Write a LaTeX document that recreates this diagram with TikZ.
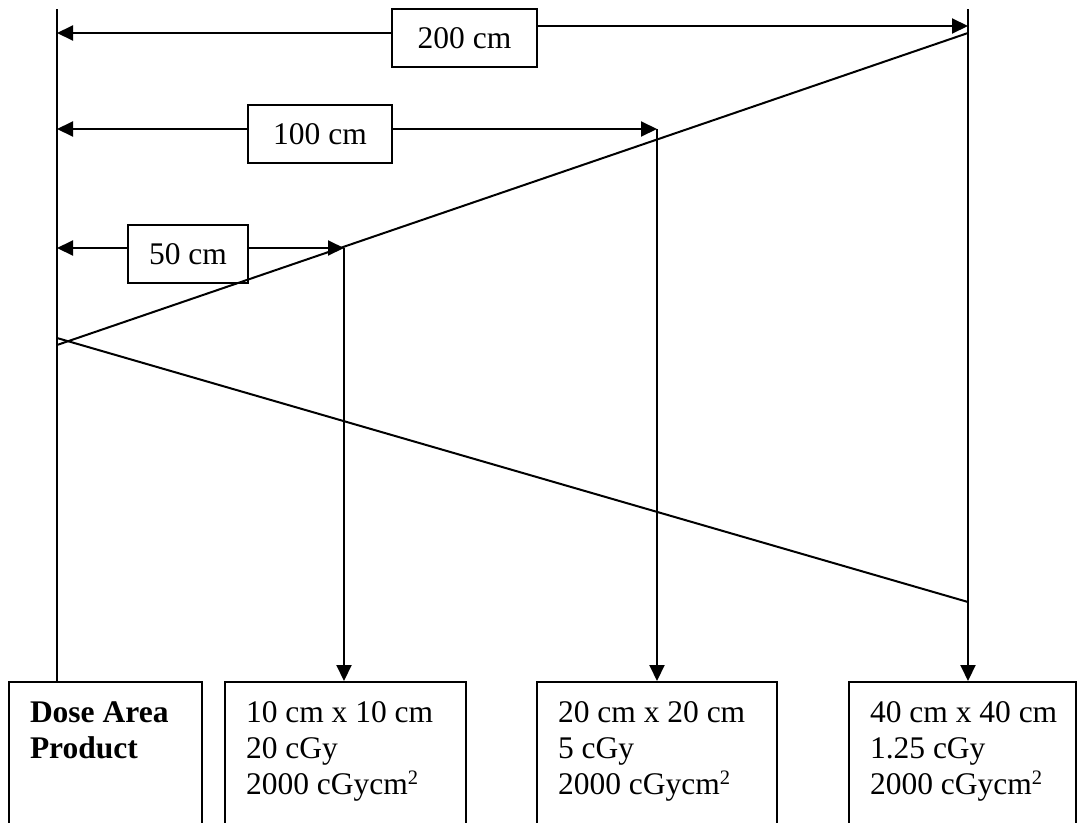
\documentclass[tikz,border=0pt]{standalone}
\usepackage{fontspec}
\setmainfont{Liberation Serif}
\usetikzlibrary{arrows.meta}
\newcommand{\sqtwo}{\raisebox{10pt}{\fontsize{20.5}{20.5}\selectfont 2}}
\begin{document}
\begin{tikzpicture}[x=1pt,y=-1pt,line width=2pt,
  lab/.style={draw,minimum width=#1,minimum height=58pt,inner sep=0pt,
    font=\fontsize{31.5}{36}\selectfont},
  dbox/.style={draw,minimum width=#1,minimum height=170pt,anchor=north west,inner sep=0pt},
  txt/.style={anchor=north west,inner sep=0pt,align=left,
    font=\fontsize{31.5}{36}\selectfont},
  arr/.style={-{Triangle[length=16pt,width=15pt]}}]
\useasboundingbox (0,0) rectangle (1078,822);

% label boxes
\node[lab=145pt] (l200) at (464.5,38) {200 cm};
\node[lab=144pt] (l100) at (320,134) {100 cm};
\node[lab=120pt] (l50)  at (188,254) {50 cm};

% bottom boxes
\node[dbox=193pt] (b1) at (8,681) {};
\node[dbox=241pt] (b2) at (224,681) {};
\node[dbox=240pt] (b3) at (536,681) {};
\node[dbox=227pt] (b4) at (848,681) {};

\node[txt] (t1) at (29,700.7) {\textbf{Dose Area}\\\textbf{Product}};
\node[txt] (t2) at (245,700.7) {10 cm x 10 cm\\20 cGy\\2000 cGycm\sqtwo};
\node[txt] (t3) at (557,700.7) {20 cm x 20 cm\\5 cGy\\2000 cGycm\sqtwo};
\node[txt] (t4) at (869,700.7) {40 cm x 40 cm\\1.25 cGy\\2000 cGycm\sqtwo};

% key points
\coordinate (top0) at (57,9);
\coordinate (top200) at (968,9);
\coordinate (a200L) at (57,33);
\coordinate (a200R) at (968,26);
\coordinate (a100L) at (57,129);
\coordinate (a100R) at (657,129);
\coordinate (a50L) at (57,248);
\coordinate (a50R) at (344,248);
\coordinate (apexU) at (57,345);
\coordinate (apexD) at (57,338);
\coordinate (endU) at (968,33);
\coordinate (endD) at (968,602);

% vertical lines
\draw (top0) -- (b1.north -| top0);
\draw[arr] (top200) -- (b4.north -| top200);
\draw[arr] (a100R) -- (b3.north -| a100R);
\draw[arr] (a50R) -- (b2.north -| a50R);

% dimension arrows
\draw[arr] (l200.west |- a200L) -- (a200L);
\draw[arr] (l200.east |- a200R) -- (a200R);
\draw[arr] (l100.west |- a100L) -- (a100L);
\draw[arr] (l100.east |- a100R) -- (a100R);
\draw[arr] (l50.west |- a50L) -- (a50L);
\draw[arr] (l50.east |- a50R) -- (a50R);

% beam
\draw (apexU) -- (endU);
\draw (apexD) -- (endD);
\end{tikzpicture}
\end{document}
